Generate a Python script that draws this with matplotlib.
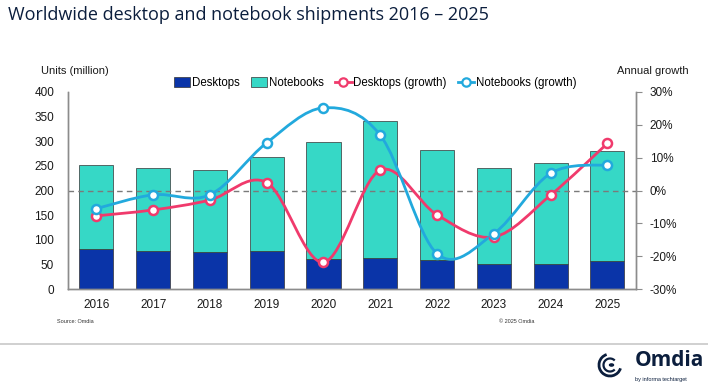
import matplotlib
matplotlib.use('Agg')
import matplotlib.pyplot as plt
import numpy as np
from matplotlib.path import Path
from matplotlib.patches import PathPatch, Patch, Arc, Circle
from matplotlib.lines import Line2D

plt.rcParams['font.family'] = ['Liberation Sans', 'DejaVu Sans']

years = ['2016', '2017', '2018', '2019', '2020', '2021', '2022', '2023', '2024', '2025']
desktops = [82, 78, 75.5, 77.5, 61, 64, 59, 51, 50.5, 58]
notebooks = [170, 167, 165.5, 189.5, 236.5, 277, 224, 194.5, 205, 221]
desktops_growth = [-7.7, -5.9, -2.9, 2.4, -21.8, 6.2, -7.4, -14.1, -1.4, 14.3]
notebooks_growth = [-5.5, -1.3, -1.3, 14.5, 25.1, 16.8, -19.2, -13.1, 5.2, 7.8]

c_desk = '#0A34A8'
c_note = '#36D8C6'
c_dg = '#F03A6C'
c_ng = '#22A9DD'
c_axis = '#8C8C8C'
c_text = '#1A1A1A'


def smooth_path(x, y):
    # Excel-like smoothed line: cubic bezier through the points
    pts = np.column_stack([x, y]).astype(float)
    n = len(pts)
    verts = [pts[0]]
    codes = [Path.MOVETO]
    for i in range(n - 1):
        p0 = pts[i - 1] if i > 0 else pts[i]
        p1 = pts[i]
        p2 = pts[i + 1]
        p3 = pts[i + 2] if i + 2 < n else pts[i + 1]
        verts += [p1 + (p2 - p0) / 6, p2 - (p3 - p1) / 6, p2]
        codes += [Path.CURVE4] * 3
    return Path(verts, codes)


fig = plt.figure(figsize=(7.08, 3.87), dpi=100)
ax = fig.add_axes([0.096, 0.2525, 0.802, 0.5105])
ax2 = ax.twinx()

x = np.arange(len(years))
ax.bar(x, desktops, width=0.6, color=c_desk, edgecolor='#333333', linewidth=0.5, zorder=2)
ax.bar(x, notebooks, width=0.6, bottom=desktops, color=c_note, edgecolor='#333333', linewidth=0.5, zorder=2)

ax.set_xlim(-0.5, len(years) - 0.5)
ax.set_ylim(0, 400)
ax.set_yticks(range(0, 401, 50))
ax.set_xticks(x)
ax.set_xticklabels(years)

ax2.set_ylim(-30, 30)
ax2.set_yticks(range(-30, 31, 10))
ax2.set_yticklabels([f'{v}%' for v in range(-30, 31, 10)])
ax2.axhline(0, color='#7A7A7A', linestyle=(0, (4, 3)), linewidth=1.0, zorder=1)

for vals, col in [(desktops_growth, c_dg), (notebooks_growth, c_ng)]:
    ax2.add_patch(PathPatch(smooth_path(x, vals), facecolor='none', edgecolor=col,
                            linewidth=2.0, zorder=3, capstyle='round'))
    ax2.plot(x, vals, linestyle='none', marker='o', markersize=6.5, markerfacecolor='white',
             markeredgecolor=col, markeredgewidth=1.8, zorder=4)

for a in (ax, ax2):
    a.spines['top'].set_visible(False)
    for s in ('left', 'right', 'bottom'):
        a.spines[s].set_color(c_axis)
        a.spines[s].set_linewidth(1.0)
ax.tick_params(axis='y', length=0, labelsize=8.5, labelcolor=c_text, pad=10)
ax.tick_params(axis='x', length=0, labelsize=8.5, labelcolor=c_text, pad=7)
ax2.tick_params(axis='y', length=4, color=c_axis, direction='out', labelsize=8.5, labelcolor=c_text, pad=6)
for lab in ax2.get_yticklabels():
    lab.set_horizontalalignment('left')

fig.text(0.011, 0.962, 'Worldwide desktop and notebook shipments 2016 \u2013 2025',
         fontsize=13, color='#0B1E3D', family=['Open Sans', 'DejaVu Sans'], va='center')
fig.text(0.058, 0.816, 'Units (million)', fontsize=8, color=c_text, va='center')
fig.text(0.922, 0.816, 'Annual growth', fontsize=8, color=c_text, va='center', ha='center')

handles = [
    Patch(facecolor=c_desk, edgecolor='#333333', linewidth=0.5),
    Patch(facecolor=c_note, edgecolor='#333333', linewidth=0.5),
    Line2D([], [], color=c_dg, lw=2, marker='o', markersize=6, markerfacecolor='white', markeredgewidth=1.6),
    Line2D([], [], color=c_ng, lw=2, marker='o', markersize=6, markerfacecolor='white', markeredgewidth=1.6),
]
labels = ['Desktops', 'Notebooks', 'Desktops (growth)', 'Notebooks (growth)']
fig.legend(handles, labels, loc='center', bbox_to_anchor=(0.53, 0.785), ncol=4, frameon=False,
           fontsize=8.3, handlelength=1.4, handleheight=0.9, handletextpad=0.15, columnspacing=1.0)

fig.text(0.081, 0.168, 'Source: Omdia', fontsize=4, color='#333333', va='center')
fig.text(0.755, 0.168, '\u00a9 2025 Omdia', fontsize=4, color='#333333', va='center', ha='right')

fig.add_artist(Line2D([0, 1], [1 - 344 / 387] * 2, color='#C8C8C8', linewidth=1.2))

# logo
logo_col = '#0B1E3D'
cx, cy = 610 / 708, 1 - 365 / 387
fig.add_artist(Arc((cx, cy), 22 / 708, 22 / 387, theta1=100, theta2=330, color=logo_col, lw=2.0))
fig.add_artist(Arc((cx, cy), 13 / 708, 13 / 387, theta1=60, theta2=300, color=logo_col, lw=1.6))
fig.add_artist(Circle((cx + 1.5 / 708, cy), 2 / 708, color=logo_col))
fig.text(0.897, 1 - 360 / 387, 'Omdia', fontsize=15, fontweight='bold', color=logo_col,
         family=['Open Sans', 'DejaVu Sans'], va='center')
fig.text(0.897, 1 - 380 / 387, 'by informa techtarget', fontsize=4, color=logo_col, va='center')

fig.savefig('out.png', dpi=100)
